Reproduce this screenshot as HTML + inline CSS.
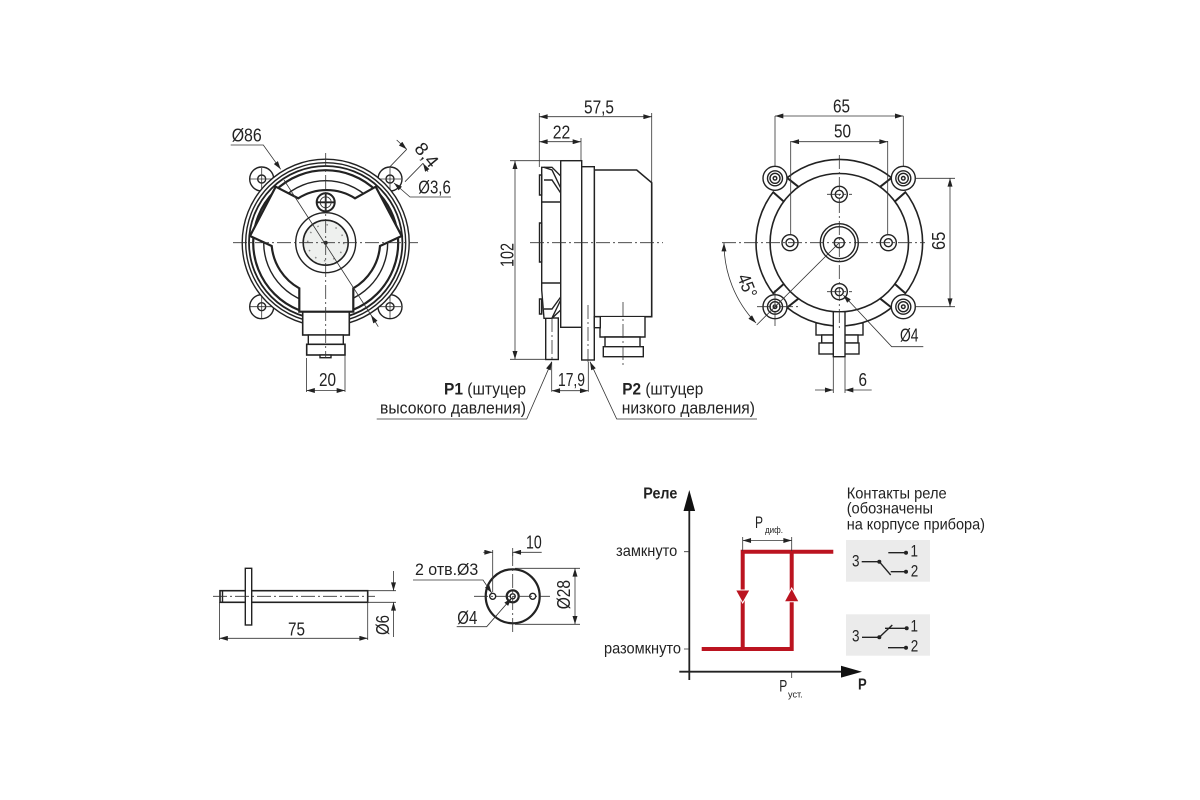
<!DOCTYPE html>
<html><head><meta charset="utf-8">
<style>
html,body{margin:0;padding:0;background:#fff;width:1200px;height:800px;overflow:hidden}
svg{display:block}
text{font-family:"Liberation Sans",sans-serif;fill:#222;font-size:16px}
.d{font-size:18.5px}
.t{fill:none;stroke:#333;stroke-width:.8}
.m{fill:#fff;stroke:#222;stroke-width:1.4}
.n{fill:none;stroke:#222;stroke-width:1.4}
.b{fill:none;stroke:#222;stroke-width:2.2}
.c{fill:none;stroke:#333;stroke-width:.8;stroke-dasharray:14 3 2 3}
.r{fill:none;stroke:#bb1420;stroke-width:4}
</style></head><body>
<svg width="1200" height="800" viewBox="0 0 1200 800" xmlns="http://www.w3.org/2000/svg">
<defs>
<marker id="a" viewBox="0 0 10 6" refX="10" refY="3" markerWidth="10" markerHeight="5" markerUnits="userSpaceOnUse" orient="auto-start-reverse"><path d="M0 0L10 3L0 6z" fill="#222"/></marker>
</defs>

<!-- FRONT VIEW -->
<g>
<g class="m">
<circle cx="261.700" cy="179" r="12"/><circle cx="390" cy="179" r="12"/><circle cx="261.700" cy="306.700" r="12"/><circle cx="390" cy="306.700" r="12"/>
</g>
<g class="n">
<circle cx="261.700" cy="179" r="4"/><circle cx="390" cy="179" r="4"/><circle cx="261.700" cy="306.700" r="4"/><circle cx="390" cy="306.700" r="4"/>
</g>
<path d="M250 179H273M261.700 168V190M379 179H401M390 168V190M250 306.700H273M261.700 296V318M379 306.700H401M390 296V318" class="t"/>
<circle cx="325.700" cy="242.700" r="83.500" class="m"/>
<circle cx="325.700" cy="242.700" r="80" class="n"/>
<circle cx="325.700" cy="242.700" r="76.700" class="n" style="stroke-width:1.800"/>
<circle cx="325.700" cy="242.700" r="72.500" class="b"/>
<circle cx="325.700" cy="242.700" r="62" class="n"/>
<path d="M275.700 186.700L298.300 198.300A53 53 0 0 1 355 198.300L375.700 186.700L401.700 236L380 246A54 54 0 0 1 353.300 288.300V311.700H299.300V288.300A54 54 0 0 1 271.700 246L250 236Z" fill="#fff" stroke="#222" stroke-width="2.200"/>
<circle cx="325.700" cy="202.300" r="9" class="m" style="stroke-width:2"/>
<path d="M317 202.300H335M325.700 193.500V211" class="n" style="stroke-width:1.800"/>
<circle cx="325.700" cy="202.300" r="5.500" class="t"/>
<circle cx="325.700" cy="242.700" r="30" class="m"/>
<circle cx="325.700" cy="242.700" r="22.500" fill="#eef0ee" stroke="#222" stroke-width="1.600"/>
<circle cx="325.700" cy="242.700" r="18" fill="none" stroke="#8a8a8a" stroke-width="1.500" stroke-dasharray="1.500 8"/>
<circle cx="325.700" cy="242.700" r="2" fill="#222"/>
<rect x="302.700" y="312" width="46.600" height="23" class="m" style="stroke-width:1.600"/>
<rect x="308.300" y="335" width="35" height="9.300" class="m"/>
<rect x="306.700" y="344.300" width="38.300" height="10.700" class="m" style="stroke-width:1.600"/>
<rect x="320" y="355" width="11" height="2.700" class="m"/>
<path d="M233 242.700H418M325.700 153V358" class="c"/>
<path d="M306.500 358V392M345 355V392" class="t"/>
<path d="M306.500 390.500H345" class="t" marker-start="url(#a)" marker-end="url(#a)"/>
<text class="d" x="319" y="386" textLength="17" lengthAdjust="spacingAndGlyphs">20</text>
<path d="M230.700 145H263.300L280.700 169.300" class="t" marker-end="url(#a)"/>
<text class="d" x="231.700" y="141.700" textLength="30" lengthAdjust="spacingAndGlyphs">Ø86</text>
<path d="M284 180L371 315" class="t"/>
<path d="M378.300 326.700L371 315" class="t" marker-end="url(#a)"/>
<path d="M390 166.700L406.700 149.300M405 181.700L423 163.300" class="t"/>
<path d="M396.700 140L406.700 149.300" class="t" marker-end="url(#a)"/>
<path d="M428 171.700L423 163.300" class="t" marker-end="url(#a)"/>
<text class="d" transform="translate(413.500 149) rotate(50)" textLength="26" lengthAdjust="spacingAndGlyphs">8,4</text>
<path d="M451 197H410L394 183" class="t" marker-end="url(#a)"/>
<text class="d" x="418.300" y="193.300" textLength="32.500" lengthAdjust="spacingAndGlyphs">Ø3,6</text>
</g>

<!-- SIDE VIEW -->
<g>
<rect x="545.700" y="318" width="12.600" height="41.500" class="m"/>
<path d="M541.700 167.300H552L560.700 176V310L552 318.300H544L541.700 290V195Z" class="m"/>
<path d="M544 167.300L552 170L560.700 188M544 180H552L560.700 193M542 202H560.700M542 283H560.700M544 309H552L560.700 297M552 318L560.700 300" class="n"/>
<path d="M539.500 175H541.700V195H539.500ZM539.500 223H541.700V262H539.500ZM539.500 299H541.700V314H539.500Z" class="m"/>
<rect x="560.700" y="160.700" width="21" height="166.600" class="m"/>
<path d="M594.300 170H636.700L651.700 182.700V316.700H594.300Z" class="m" style="stroke-width:1.600"/>
<rect x="581.700" y="166.700" width="12.600" height="193.300" class="m"/>
<path d="M600 317V337H645V317" class="m"/>
<path d="M605 337H640V347H605Z" class="m"/>
<rect x="603.300" y="346.700" width="40" height="10" class="m"/>
<rect x="594.300" y="316.700" width="6" height="11" class="m"/>
<path d="M530 242.700H663" class="c"/>
<path d="M552 318V362M588 305V362M623 302V368" class="c"/>
<path d="M539.300 113V167M651.700 113V182M581 138V160M510 160.700H560.700M510 359.300H545.700" class="t"/>
<path d="M539.300 116.700H651.700" class="t" marker-start="url(#a)" marker-end="url(#a)"/>
<path d="M539.300 141.700H581" class="t" marker-start="url(#a)" marker-end="url(#a)"/>
<path d="M515 160.700V359.300" class="t" marker-start="url(#a)" marker-end="url(#a)"/>
<text class="d" x="584" y="113.300" textLength="30" lengthAdjust="spacingAndGlyphs">57,5</text>
<text class="d" x="552.700" y="138.300" textLength="17.500" lengthAdjust="spacingAndGlyphs">22</text>
<text class="d" transform="translate(513.300 267) rotate(-90)" textLength="24" lengthAdjust="spacingAndGlyphs">102</text>
<path d="M551.700 362V391.700M588.300 362V391.700" class="t"/>
<path d="M551.700 390.700H588.300" class="t" marker-start="url(#a)" marker-end="url(#a)"/>
<text class="d" x="558" y="386" textLength="27" lengthAdjust="spacingAndGlyphs">17,9</text>
<path d="M376.700 419H526.700L551.700 361.700" class="t" marker-end="url(#a)"/>
<path d="M757 419H616.700L590 361.700" class="t" marker-end="url(#a)"/>
<text x="444" y="394.300" textLength="82" lengthAdjust="spacingAndGlyphs" style="font-size:17px"><tspan font-weight="bold">P1</tspan> (штуцер</text>
<text x="380" y="413.300" textLength="146" lengthAdjust="spacingAndGlyphs" style="font-size:17px">высокого давления)</text>
<text x="622.300" y="394.300" textLength="81" lengthAdjust="spacingAndGlyphs" style="font-size:17px"><tspan font-weight="bold">P2</tspan> (штуцер</text>
<text x="621.700" y="413.300" textLength="133.300" lengthAdjust="spacingAndGlyphs" style="font-size:17px">низкого давления)</text>
</g>

<!-- REAR VIEW -->
<g>
<rect x="816" y="323" width="47" height="12" class="m"/>
<rect x="821.700" y="335" width="36.300" height="8" class="m"/>
<rect x="819" y="343" width="40" height="11" class="m"/>
<circle cx="839.300" cy="242.700" r="83.300" class="m" style="stroke-width:1.600"/>
<path d="M798.500 187L787.500 178L772.500 192L784 202ZM880 187L891 178L906 192L894.500 202ZM798.500 298.400L787.500 307.400L772.500 293.400L784 283.400ZM880 298.400L891 307.400L906 293.400L894.500 283.400Z" fill="#fff"/>
<circle cx="839.300" cy="242.700" r="69.200" class="m" style="stroke-width:1.600"/>
<rect x="833.300" y="311.700" width="11.700" height="45" class="m"/>
<g class="n" style="stroke-width:2">
<path d="M787.700 178.300L798.300 186.700M772.700 191.700L784 201.700M880.300 186.700L890.900 178.300M894.600 201.700L905.900 191.700"/>
<path d="M787.700 307.100L798.300 298.700M772.700 293.700L784 283.700M880.300 298.700L890.900 307.100M894.600 283.700L905.900 293.700"/>
</g>
<g class="m">
<circle cx="775" cy="178.300" r="12"/><circle cx="903.300" cy="178.300" r="12"/><circle cx="775" cy="306.700" r="12"/><circle cx="903.300" cy="306.700" r="12"/>
</g>
<g class="n">
<circle cx="775" cy="178.300" r="7.500"/><circle cx="903.300" cy="178.300" r="7.500"/><circle cx="775" cy="306.700" r="7.500"/><circle cx="903.300" cy="306.700" r="7.500"/>
<circle cx="775" cy="178.300" r="5"/><circle cx="903.300" cy="178.300" r="5"/><circle cx="775" cy="306.700" r="5"/><circle cx="903.300" cy="306.700" r="5"/>
<circle cx="775" cy="178.300" r="1.800"/><circle cx="903.300" cy="178.300" r="1.800"/><circle cx="775" cy="306.700" r="1.800"/><circle cx="903.300" cy="306.700" r="1.800"/>
</g>
<g class="n">
<circle cx="839.300" cy="194.300" r="8"/><circle cx="790" cy="242.700" r="8"/><circle cx="888.300" cy="242.700" r="8"/><circle cx="839.300" cy="291.700" r="8"/>
<circle cx="839.300" cy="194.300" r="4"/><circle cx="790" cy="242.700" r="4"/><circle cx="888.300" cy="242.700" r="4"/><circle cx="839.300" cy="291.700" r="4"/>
<circle cx="839.300" cy="242.700" r="19"/><circle cx="839.300" cy="242.700" r="16"/><circle cx="839.300" cy="242.700" r="5"/>
</g>
<path d="M722 242.700H925M839.300 155V330M827 194.300H852M827 291.700H852M757 306.700H800M775 290V326" class="c"/>
<path d="M775 116V166M903.300 116V166M790.700 141V234M887.700 141V234M915 178.300H955M915 306.700H955M833.300 357V393M845 357V393" class="t"/>
<path d="M775 116H903.300" class="t" marker-start="url(#a)" marker-end="url(#a)"/>
<path d="M790.700 141.700H887.700" class="t" marker-start="url(#a)" marker-end="url(#a)"/>
<path d="M950 178.300V306.700" class="t" marker-start="url(#a)" marker-end="url(#a)"/>
<path d="M724 243A115 115 0 0 0 756 323" class="t" marker-start="url(#a)" marker-end="url(#a)"/>
<path d="M839.300 242.700L756.700 325" class="t"/>
<path d="M923.300 346.700H891.700L843.300 295" class="t" marker-end="url(#a)"/>
<path d="M815 390H833.300" class="t" marker-end="url(#a)"/>
<path d="M871.700 390H845" class="t" marker-end="url(#a)"/>
<text class="d" x="833" y="112.700" textLength="17" lengthAdjust="spacingAndGlyphs">65</text>
<text class="d" x="834" y="137.700" textLength="17" lengthAdjust="spacingAndGlyphs">50</text>
<text class="d" transform="translate(945 250) rotate(-90)" textLength="18.300" lengthAdjust="spacingAndGlyphs">65</text>
<text class="d" transform="translate(737 277) rotate(68)" textLength="24" lengthAdjust="spacingAndGlyphs">45°</text>
<text class="d" x="900" y="341.700" textLength="18.500" lengthAdjust="spacingAndGlyphs">Ø4</text>
<text class="d" x="858.500" y="386" textLength="8.500" lengthAdjust="spacingAndGlyphs">6</text>
</g>

<!-- PIN -->
<g>
<rect x="220" y="590.700" width="147.700" height="11.600" class="m" style="stroke-width:1.600"/>
<rect x="245.300" y="568.300" width="6.400" height="56.700" class="m"/>
<rect x="246.200" y="592" width="4.600" height="9.500" fill="#fff"/>
<path d="M222.500 591V602" class="n"/>
<path d="M213 596.300H375" class="c"/>
<path d="M219.500 602V640M367.700 602V640M368 590.700H396M368 602.300H396" class="t"/>
<path d="M219.500 638.300H367.700" class="t" marker-start="url(#a)" marker-end="url(#a)"/>
<path d="M393.500 571V590.700" class="t" marker-end="url(#a)"/>
<path d="M393.500 637V602.300" class="t" marker-end="url(#a)"/>
<text class="d" x="288" y="635.700" textLength="17" lengthAdjust="spacingAndGlyphs">75</text>
<text class="d" transform="translate(389 635) rotate(-90)" textLength="20" lengthAdjust="spacingAndGlyphs">Ø6</text>
</g>

<!-- CAP -->
<g>
<circle cx="512.700" cy="596.300" r="27" fill="#fff" stroke="#222" stroke-width="2.200"/>
<circle cx="492.700" cy="596.300" r="3" class="n"/>
<circle cx="532.700" cy="596.300" r="3" class="n"/>
<circle cx="512.700" cy="596.300" r="6" class="b"/>
<circle cx="512.700" cy="596.300" r="2.500" class="n"/>
<path d="M474 596.300H550M512.700 552V635" class="c"/>
<path d="M492.700 550V592M512.700 548V556M515 568.300H580M515 624.300H580" class="t"/>
<path d="M483.300 552.300H492.700" class="t" marker-end="url(#a)"/>
<path d="M541.700 552.300H512.700" class="t" marker-end="url(#a)"/>
<path d="M575 568.300V624.300" class="t" marker-start="url(#a)" marker-end="url(#a)"/>
<path d="M413 580H483L491.700 593" class="t" marker-end="url(#a)"/>
<path d="M456.700 626.700H486.700L511.700 598" class="t" marker-end="url(#a)"/>
<text class="d" x="526" y="548.300" textLength="15.700" lengthAdjust="spacingAndGlyphs">10</text>
<text x="415" y="575" textLength="63.300" lengthAdjust="spacingAndGlyphs" style="font-size:17px">2 отв.Ø3</text>
<text class="d" x="457.300" y="624" textLength="20" lengthAdjust="spacingAndGlyphs">Ø4</text>
<text class="d" transform="translate(570 609.300) rotate(-90)" textLength="29.300" lengthAdjust="spacingAndGlyphs">Ø28</text>
</g>

<!-- GRAPH -->
<g>
<rect x="846" y="540" width="84" height="41.700" fill="#ebebeb"/>
<rect x="846" y="614.300" width="84" height="41.400" fill="#ebebeb"/>
<path d="M689.300 680V505" stroke="#222" stroke-width="1.800" fill="none"/>
<path d="M679.300 671.700H842" stroke="#222" stroke-width="1.800" fill="none"/>
<path d="M689.300 490L683.500 511H695.100Z" fill="#111"/>
<path d="M862 671.700L841 665.800V677.600Z" fill="#111"/>
<path d="M684 551.700H689M684 649H689M791.700 672V678" class="t"/>
<path d="M701.700 649H791.700V551.700" class="r"/>
<path d="M833.300 551.700H742.700V649" class="r"/>
<path d="M735.500 590H750L742.700 603Z" fill="#bb1420" stroke="#fff" stroke-width="1"/>
<path d="M784.300 601.700H799L791.700 588Z" fill="#bb1420" stroke="#fff" stroke-width="1"/>
<path d="M742.700 537V551M791.700 537V551" class="t"/>
<path d="M742.700 540.500H791.700" class="t" marker-start="url(#a)" marker-end="url(#a)"/>
<text x="643.300" y="498.300" textLength="34" lengthAdjust="spacingAndGlyphs" style="font-size:16px;font-weight:bold">Реле</text>
<text x="616" y="556" textLength="61.300" lengthAdjust="spacingAndGlyphs" style="font-size:16px">замкнуто</text>
<text x="604" y="653.300" textLength="77" lengthAdjust="spacingAndGlyphs" style="font-size:16px">разомкнуто</text>
<text x="755" y="528" textLength="8" lengthAdjust="spacingAndGlyphs" style="font-size:17px">P</text>
<text x="765" y="533" textLength="18" lengthAdjust="spacingAndGlyphs" style="font-size:9px">диф.</text>
<text x="779.300" y="691.700" textLength="8" lengthAdjust="spacingAndGlyphs" style="font-size:17px">P</text>
<text x="788" y="697.300" textLength="14.700" lengthAdjust="spacingAndGlyphs" style="font-size:9px">уст.</text>
<text x="858" y="689.300" textLength="8.700" lengthAdjust="spacingAndGlyphs" style="font-size:16px;font-weight:bold">P</text>
<text x="846.700" y="498.300" textLength="100" lengthAdjust="spacingAndGlyphs" style="font-size:16px">Контакты реле</text>
<text x="846.700" y="513.300" textLength="86.300" lengthAdjust="spacingAndGlyphs" style="font-size:16px">(обозначены</text>
<text x="846.700" y="529.300" textLength="138.300" lengthAdjust="spacingAndGlyphs" style="font-size:16px">на корпусе прибора)</text>
<path d="M861.700 561.700H879.300L890.700 575M888.300 552.700H906M890.700 571.700H906" class="n"/>
<circle cx="879.300" cy="561.700" r="2" fill="#222"/><circle cx="906" cy="552.700" r="2" fill="#222"/><circle cx="906" cy="571.700" r="2" fill="#222"/>
<text x="852" y="566.700" textLength="7.500" lengthAdjust="spacingAndGlyphs" style="font-size:16.500px">3</text>
<text x="910.500" y="556.700" textLength="7.500" lengthAdjust="spacingAndGlyphs" style="font-size:16.500px">1</text>
<text x="910.700" y="576.700" textLength="7.500" lengthAdjust="spacingAndGlyphs" style="font-size:16.500px">2</text>
<path d="M862 637.300H879.300L892.300 625M885 628.300H906.700M888 647.700H906" class="n"/>
<circle cx="879.300" cy="637.300" r="2" fill="#222"/><circle cx="906.700" cy="628.300" r="2" fill="#222"/><circle cx="906" cy="647.700" r="2" fill="#222"/>
<text x="852" y="641.700" textLength="7.500" lengthAdjust="spacingAndGlyphs" style="font-size:16.500px">3</text>
<text x="910.500" y="631.700" textLength="7.500" lengthAdjust="spacingAndGlyphs" style="font-size:16.500px">1</text>
<text x="910.700" y="651.700" textLength="7.500" lengthAdjust="spacingAndGlyphs" style="font-size:16.500px">2</text>
</g>
</svg>
</body></html>
